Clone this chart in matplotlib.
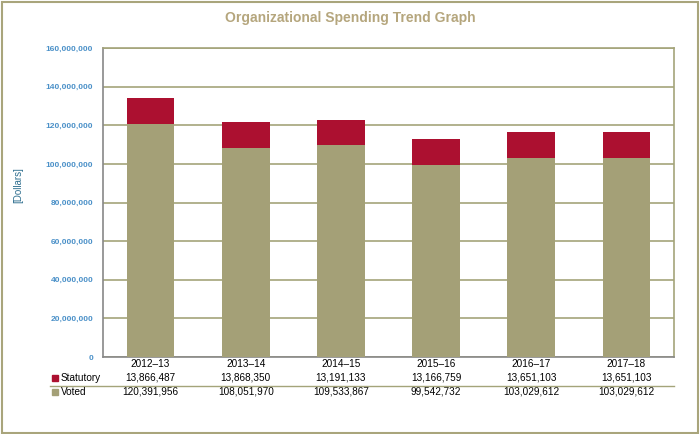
import matplotlib
matplotlib.use("Agg")
import matplotlib.pyplot as plt
from matplotlib.patches import Rectangle
import matplotlib.transforms as mtransforms

plt.rcParams['font.family'] = ['Liberation Sans', 'DejaVu Sans']

categories = ["2012–13", "2013–14", "2014–15", "2015–16", "2016–17", "2017–18"]
voted = [120391956, 108051970, 109533867, 99542732, 103029612, 103029612]
statutory = [13866487, 13868350, 13191133, 13166759, 13651103, 13651103]
yticks = [0, 20000000, 40000000, 60000000, 80000000, 100000000, 120000000, 140000000, 160000000]

c_voted = "#A4A077"
c_stat = "#AC1030"
c_grid = "#A4A47A"
c_tick = "#4A90C8"

fig = plt.figure(figsize=(7, 4.34), dpi=100)
ax = fig.add_axes([103/700, 1-357/434, (674-103)/700, (357-48)/434])

x = list(range(len(categories)))
ax.bar(x, voted, width=0.5, color=c_voted, zorder=3)
ax.bar(x, statutory, width=0.5, bottom=voted, color=c_stat, zorder=3)

ax.set_xlim(-0.5, len(categories)-0.5)
ax.set_ylim(0, 160000000)
ax.set_yticks(yticks)
ax.set_yticklabels([f"{v:,}" for v in yticks], color=c_tick, fontsize=6, fontweight='bold')
ax.tick_params(axis='y', length=0, pad=7)
ax.set_xticks([])
ax.yaxis.grid(True, color=c_grid, linewidth=1.2, zorder=0)
for s in ['left', 'bottom']:
    ax.spines[s].set_color("#888888")
    ax.spines[s].set_linewidth(1.2)
ax.spines['right'].set_color(c_grid)
ax.spines['top'].set_color(c_grid)
ax.spines['right'].set_linewidth(1.2)
ax.spines['top'].set_linewidth(1.2)

fig.text(18/700, 1-185/434, "[Dollars]", rotation=90, color="#2F6F8F", fontsize=7, ha='center', va='center')
fig.text(350/700, 1-18/434, "Organizational Spending Trend Graph", color="#B5A67D",
         fontsize=10, fontweight='bold', ha='center', va='center')

trans = mtransforms.blended_transform_factory(ax.transData, fig.transFigure)
for i, c in enumerate(categories):
    ax.text(i, 1-364/434, c, transform=trans, ha='center', va='center', fontsize=7.2, color='black', clip_on=False)
    ax.text(i, 1-378/434, f"{statutory[i]:,}", transform=trans, ha='center', va='center', fontsize=7.2, clip_on=False)
    ax.text(i, 1-392/434, f"{voted[i]:,}", transform=trans, ha='center', va='center', fontsize=7.2, clip_on=False)

fig.add_artist(Rectangle((52/700, 1-381/434), 6/700, 6/434, transform=fig.transFigure, color=c_stat))
fig.add_artist(Rectangle((52/700, 1-395/434), 6/700, 6/434, transform=fig.transFigure, color=c_voted))
fig.text(61/700, 1-378/434, "Statutory", fontsize=7.2, ha='left', va='center')
fig.text(61/700, 1-392/434, "Voted", fontsize=7.2, ha='left', va='center')
fig.add_artist(plt.Line2D([50/700, 674/700], [1-386/434, 1-386/434], transform=fig.transFigure, color=c_grid, linewidth=1))

fig.add_artist(Rectangle((1.5/700, 1.5/434), 696/700, 431/434, transform=fig.transFigure,
                         fill=False, edgecolor="#A9A57C", linewidth=1.5))

fig.savefig("out.png", dpi=100)
